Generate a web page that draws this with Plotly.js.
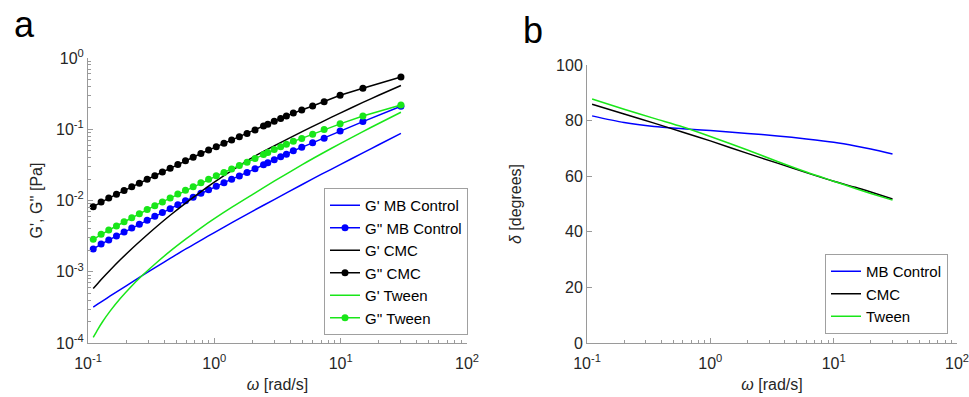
<!DOCTYPE html>
<html>
<head>
<meta charset="utf-8">
<script src="https://cdn.plot.ly/plotly-3.0.1.min.js"></script>
<style>
  html, body { margin: 0; padding: 0; background: #fff; }
  #chart { width: 969px; height: 397px; }
</style>
</head>
<body>
<div id="chart"></div>
<script>
// ---------- Data ----------
// Panel a: loss modulus G'' (marked points)
const omegaPts = [0.110, 0.127, 0.146, 0.168, 0.193, 0.222, 0.255, 0.294, 0.338, 0.388,
                  0.447, 0.514, 0.591, 0.680, 0.783, 0.901, 1.036, 1.192, 1.371, 1.578,
                  1.815, 2.10, 2.45, 2.65, 2.98, 3.35, 3.72, 4.22, 4.92, 6.0,
                  7.4, 9.9, 15, 30];
const g2MB    = [0.00209, 0.00245, 0.00280, 0.00317, 0.00360, 0.00412, 0.00463, 0.00529, 0.0060, 0.00678,
                 0.00767, 0.0087, 0.0099, 0.0111, 0.0126, 0.0141, 0.0158, 0.0178, 0.0198, 0.0221,
                 0.0247, 0.0278, 0.0317, 0.0339, 0.0374, 0.0410, 0.0447, 0.0499, 0.0557, 0.0648,
                 0.0745, 0.0944, 0.128, 0.21];
const g2CMC   = [0.0082, 0.0095, 0.0108, 0.0122, 0.0138, 0.0156, 0.0175, 0.0198, 0.0223, 0.0251,
                 0.0283, 0.0320, 0.0360, 0.0404, 0.0456, 0.0510, 0.0570, 0.0634, 0.0705, 0.0785,
                 0.0873, 0.098, 0.111, 0.118, 0.130, 0.142, 0.154, 0.169, 0.186, 0.212,
                 0.244, 0.30, 0.376, 0.54];
const g2Tween = [0.00285, 0.00335, 0.00385, 0.00439, 0.00502, 0.00574, 0.00652, 0.00746, 0.00847, 0.00956,
                 0.0108, 0.0123, 0.0139, 0.0156, 0.0177, 0.0198, 0.0222, 0.0248, 0.0277, 0.0309,
                 0.0345, 0.0388, 0.0441, 0.0470, 0.0519, 0.0568, 0.0616, 0.0676, 0.0744, 0.085,
                 0.099, 0.119, 0.153, 0.219];

// Panel a: storage modulus G' (lines)
const omegaLine = [0.11, 0.12, 0.13, 0.15, 0.18, 0.22, 0.27, 0.35, 0.45, 0.6,
                   0.8, 1.0, 1.4, 2.0, 3.0, 5.0, 7.0, 10, 15, 20, 30];
const g1MB    = [0.00032, 0.000354, 0.000388, 0.000457, 0.000562, 0.000705, 0.000888, 0.00118, 0.00155, 0.00211,
                 0.00283, 0.00355, 0.00497, 0.00705, 0.0104, 0.0169, 0.0232, 0.0321, 0.0466, 0.0606, 0.0874];
const g1CMC   = [0.00058, 0.00069, 0.00081, 0.00106, 0.00147, 0.00207, 0.00288, 0.00431, 0.00625, 0.00935,
                 0.01367, 0.01807, 0.0269, 0.0401, 0.0589, 0.0934, 0.125, 0.170, 0.238, 0.30, 0.411];
const g1Tween = [0.00012, 0.000157, 0.000197, 0.000282, 0.000421, 0.000622, 0.000891, 0.00135, 0.00196, 0.00291,
                 0.00424, 0.00556, 0.00818, 0.0121, 0.0188, 0.0321, 0.0449, 0.0634, 0.0927, 0.1205, 0.173];

// Panel b: phase angle delta [degrees]
const omegaB     = [0.11, 0.2, 0.35, 0.6, 1, 2, 3.5, 6, 10, 15, 20, 30];
const deltaMB    = [81.7, 79.3, 77.9, 77.1, 76.4, 75.4, 74.5, 73.4, 72.2, 70.9, 69.8, 68.0];
const deltaCMC   = [85.9, 82.4, 79.1, 75.8, 72.7, 68.2, 64.7, 61.3, 58.2, 56.0, 54.3, 51.8];
const deltaTween = [87.8, 84.1, 80.8, 77.7, 74.3, 69.4, 65.3, 61.5, 58.2, 55.6, 53.8, 51.4];

// Tick labels
const logTickVals  = [0.1, 1, 10, 100];
const logTickText  = ['10<sup>-1</sup>', '10<sup>0</sup>', '10<sup>1</sup>', '10<sup>2</sup>'];
const gTickVals    = [0.0001, 0.001, 0.01, 0.1, 1];
const gTickText    = ['10<sup>-4</sup>', '10<sup>-3</sup>', '10<sup>-2</sup>', '10<sup>-1</sup>', '10<sup>0</sup>'];
const deltaTickVals = [0, 20, 40, 60, 80, 100];

// ---------- Styling ----------
const BLUE = '#0000ff', BLACK = '#000000', GREEN = '#19e619';
const FONT = 'Liberation Sans, Arial, Helvetica, sans-serif';
const AXC = '#9a9a9a';
const TXT = '#262626';

function minorLog(lo, hi) {
  const v = [];
  for (let e = lo; e < hi; e++) for (let m = 2; m <= 9; m++) v.push(m * Math.pow(10, e));
  return v;
}

const lw = 1.5;
const sp = {shape: 'spline', smoothing: 0.8};
const traces = [
  {x: omegaLine, y: g1MB, name: "G' MB Control", mode: 'lines', line: Object.assign({color: BLUE, width: lw}, sp), xaxis: 'x', yaxis: 'y', legend: 'legend'},
  {x: omegaPts, y: g2MB, name: "G'' MB Control", mode: 'lines+markers', line: {color: BLUE, width: lw}, marker: {color: BLUE, size: 7}, xaxis: 'x', yaxis: 'y', legend: 'legend'},
  {x: omegaLine, y: g1CMC, name: "G' CMC", mode: 'lines', line: Object.assign({color: BLACK, width: lw}, sp), xaxis: 'x', yaxis: 'y', legend: 'legend'},
  {x: omegaPts, y: g2CMC, name: "G'' CMC", mode: 'lines+markers', line: {color: BLACK, width: lw}, marker: {color: BLACK, size: 7}, xaxis: 'x', yaxis: 'y', legend: 'legend'},
  {x: omegaLine, y: g1Tween, name: "G' Tween", mode: 'lines', line: Object.assign({color: GREEN, width: lw}, sp), xaxis: 'x', yaxis: 'y', legend: 'legend'},
  {x: omegaPts, y: g2Tween, name: "G'' Tween", mode: 'lines+markers', line: {color: GREEN, width: lw}, marker: {color: GREEN, size: 7}, xaxis: 'x', yaxis: 'y', legend: 'legend'},
  {x: omegaB, y: deltaMB, name: 'MB Control', mode: 'lines', line: Object.assign({color: BLUE, width: lw}, sp), xaxis: 'x2', yaxis: 'y2', legend: 'legend2'},
  {x: omegaB, y: deltaCMC, name: 'CMC', mode: 'lines', line: Object.assign({color: BLACK, width: lw}, sp), xaxis: 'x2', yaxis: 'y2', legend: 'legend2'},
  {x: omegaB, y: deltaTween, name: 'Tween', mode: 'lines', line: Object.assign({color: GREEN, width: lw}, sp), xaxis: 'x2', yaxis: 'y2', legend: 'legend2'}
];

const W = 969, H = 397;
const axisCommon = {
  showline: true, linecolor: AXC, linewidth: 1, mirror: false,
  ticks: 'inside', ticklen: 5, tickcolor: AXC, tickwidth: 1,
  showgrid: false, zeroline: false,
  tickfont: {family: FONT, size: 16, color: TXT},
  ticklabeloverflow: 'allow',
  fixedrange: true
};
const minorStyle = {ticks: 'inside', ticklen: 3, tickcolor: AXC, tickwidth: 1, showgrid: false};
const titleFont = {family: FONT, size: 16, color: TXT};

const layout = {
  width: W, height: H,
  margin: {l: 0, r: 0, t: 0, b: 0},
  paper_bgcolor: '#fff', plot_bgcolor: '#fff',
  font: {family: FONT, color: TXT},
  showlegend: true,
  xaxis: Object.assign({}, axisCommon, {
    type: 'log', range: [-1, 2], domain: [88 / W, 467 / W], anchor: 'y',
    tickmode: 'array', tickvals: logTickVals, ticktext: logTickText, ticklabelstandoff: 6,
    minor: Object.assign({tickmode: 'array', tickvals: minorLog(-1, 2)}, minorStyle),
    title: {text: '<i>ω</i> [rad/s]', font: titleFont, standoff: 7}
  }),
  yaxis: Object.assign({}, axisCommon, {
    type: 'log', range: [-4, 0], domain: [1 - 343 / H, 1 - 58 / H], anchor: 'x',
    tickmode: 'array', tickvals: gTickVals, ticktext: gTickText,
    minor: Object.assign({tickmode: 'array', tickvals: minorLog(-4, 0)}, minorStyle),
    title: {text: "G', G'' [Pa]", font: titleFont, standoff: 9}
  }),
  xaxis2: Object.assign({}, axisCommon, {
    type: 'log', range: [-1, 2], domain: [587 / W, 957 / W], anchor: 'y2',
    tickmode: 'array', tickvals: logTickVals, ticktext: logTickText, ticklabelstandoff: 6,
    minor: Object.assign({tickmode: 'array', tickvals: minorLog(-1, 2)}, minorStyle),
    title: {text: '<i>ω</i> [rad/s]', font: titleFont, standoff: 7}
  }),
  yaxis2: Object.assign({}, axisCommon, {
    type: 'linear', range: [0, 100], domain: [1 - 343 / H, 1 - 65 / H], anchor: 'x2',
    tickmode: 'array', tickvals: deltaTickVals,
    title: {text: '<i>δ</i> [degrees]', font: titleFont, standoff: 30}
  }),
  legend: {
    x: 468 / W, y: 1 - 335 / H, xanchor: 'right', yanchor: 'bottom',
    bgcolor: '#fff', bordercolor: '#a0a0a0', borderwidth: 1,
    font: {family: FONT, size: 15, color: '#000'},
    itemwidth: 30, tracegroupgap: 0
  },
  legend2: {
    x: 948 / W, y: 1 - 334 / H, xanchor: 'right', yanchor: 'bottom',
    bgcolor: '#fff', bordercolor: '#a0a0a0', borderwidth: 1,
    font: {family: FONT, size: 15, color: '#000'},
    itemwidth: 30, tracegroupgap: 0
  },
  annotations: [
    {text: 'a', x: 24 / W, y: 1 - 24 / H, xref: 'paper', yref: 'paper', showarrow: false,
     xanchor: 'center', yanchor: 'middle', font: {family: FONT, size: 36, color: '#000'}},
    {text: 'b', x: 533 / W, y: 1 - 30 / H, xref: 'paper', yref: 'paper', showarrow: false,
     xanchor: 'center', yanchor: 'middle', font: {family: FONT, size: 36, color: '#000'}}
  ]
};

Plotly.newPlot('chart', traces, layout, {staticPlot: true, displayModeBar: false});
</script>
</body>
</html>
